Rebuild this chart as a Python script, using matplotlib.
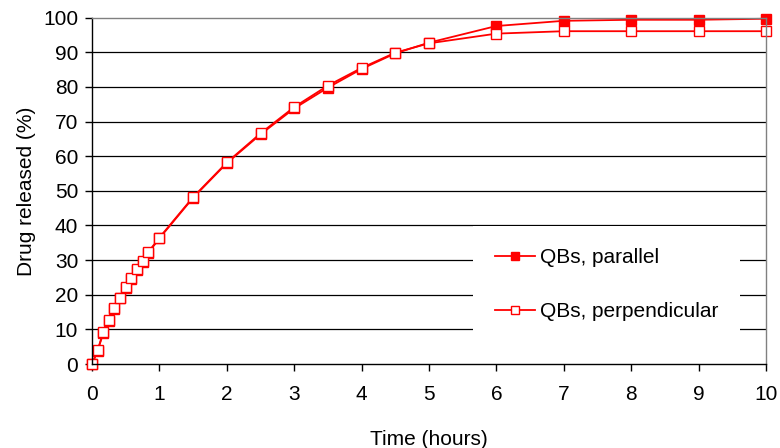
import matplotlib
matplotlib.use("Agg")
import matplotlib.pyplot as plt

time_h = [0, 0.083, 0.167, 0.25, 0.333, 0.417, 0.5, 0.583, 0.667, 0.75, 0.833, 1.0,
          1.5, 2, 2.5, 3, 3.5, 4, 4.5, 5, 6, 7, 8, 9, 10]
parallel = [0, 3.8, 9.0, 12.5, 16.0, 19.0, 22.0, 24.5, 27.0, 29.5, 32.0, 36.3,
            48.0, 58.0, 66.3, 73.8, 79.8, 85.2, 89.7, 92.8, 97.6, 99.1, 99.4, 99.4, 99.7]
perpendicular = [0, 4.0, 9.2, 12.7, 16.2, 19.2, 22.2, 24.8, 27.3, 29.8, 32.3, 36.5,
                 48.2, 58.2, 66.6, 74.2, 80.4, 85.5, 89.9, 92.6, 95.4, 96.1, 96.1, 96.1, 96.1]
series_labels = ["QBs, parallel", "QBs, perpendicular"]
x_ticks = list(range(0, 11))
y_ticks = list(range(0, 101, 10))

plt.rcParams['font.family'] = ['Liberation Sans', 'DejaVu Sans']
FS = 15

fig = plt.figure(figsize=(7.8, 4.48), dpi=100)
ax = fig.add_axes([0.118, 0.1875, 0.864, 0.773])

for y in y_ticks[1:-1]:
    ax.axhline(y, color='black', lw=0.9, zorder=1)

red = '#FF0000'
ax.plot(time_h, parallel, color=red, lw=1.3, marker='s', ms=7.5,
        mfc=red, mec=red, mew=1.0, label=series_labels[0], zorder=3, clip_on=False)
ax.plot(time_h, perpendicular, color=red, lw=1.3, marker='s', ms=7.5,
        mfc='white', mec=red, mew=1.0, label=series_labels[1], zorder=4, clip_on=False)

ax.set_xlim(0, 10)
ax.set_ylim(0, 100)
ax.set_xticks(x_ticks)
ax.set_yticks(y_ticks)
ax.tick_params(axis='both', direction='out', length=5, width=1, labelsize=FS, color='black')
ax.tick_params(axis='x', pad=10)
ax.tick_params(axis='y', pad=5)
for s in ['left', 'bottom']:
    ax.spines[s].set_color('black')
    ax.spines[s].set_linewidth(1)
for s in ['top', 'right']:
    ax.spines[s].set_color('#808080')
    ax.spines[s].set_linewidth(1)
for sp in ax.spines.values():
    sp.set_zorder(5)

ax.set_xlabel('Time (hours)', fontsize=FS, labelpad=19)
ax.set_ylabel('Drug released (%)', fontsize=FS, labelpad=5)

leg = ax.legend(loc='lower right', bbox_to_anchor=(0.962, 0.06), borderaxespad=0,
                frameon=True, fancybox=False, edgecolor='white', framealpha=1.0,
                fontsize=FS, labelspacing=1.7, handlelength=1.9, borderpad=1.05,
                handletextpad=0.25, markerscale=0.8)
leg.get_frame().set_linewidth(0)
leg.set_zorder(2)

fig.savefig('out.png', dpi=100)
